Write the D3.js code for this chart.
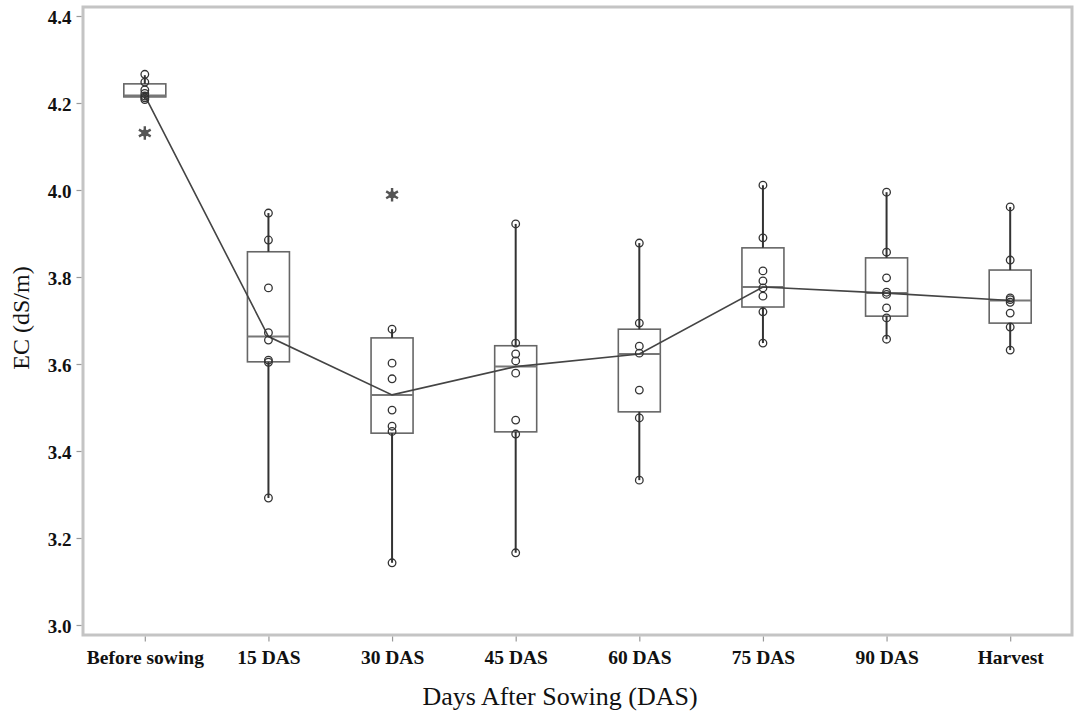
<!DOCTYPE html>
<html>
<head>
<meta charset="utf-8">
<script src="https://cdn.jsdelivr.net/npm/d3@7"></script>
<style>
  body { margin: 0; background: #fff; }
  svg { display: block; }
</style>
</head>
<body>
<svg id="chart" width="1084" height="728"></svg>
<script>
//Categories on the x axis
var categories = ["Before sowing", "15 DAS", "30 DAS", "45 DAS", "60 DAS", "75 DAS", "90 DAS", "Harvest"];
//Box statistics
var q1 = [4.214, 3.605, 3.441, 3.444, 3.490, 3.731, 3.710, 3.694];
var medians = [4.217, 3.663, 3.529, 3.594, 3.623, 3.777, 3.763, 3.746];
var q3 = [4.244, 3.858, 3.660, 3.642, 3.680, 3.867, 3.844, 3.816];
var whiskerLow = [4.208, 3.292, 3.143, 3.166, 3.333, 3.648, 3.657, 3.632];
var whiskerHigh = [4.264, 3.947, 3.680, 3.922, 3.878, 4.011, 3.995, 3.961];
//Individual observations (open circles)
var observations = [
  [4.266, 4.248, 4.230, 4.222, 4.216, 4.212, 4.208],
  [3.947, 3.885, 3.775, 3.672, 3.655, 3.609, 3.604, 3.292],
  [3.680, 3.602, 3.566, 3.494, 3.457, 3.445, 3.143],
  [3.922, 3.648, 3.623, 3.607, 3.579, 3.471, 3.439, 3.166],
  [3.878, 3.694, 3.641, 3.625, 3.540, 3.476, 3.333],
  [4.011, 3.890, 3.814, 3.791, 3.775, 3.756, 3.720, 3.648],
  [3.995, 3.857, 3.798, 3.765, 3.760, 3.729, 3.706, 3.657],
  [3.961, 3.839, 3.752, 3.748, 3.742, 3.717, 3.685, 3.632]
];
//Extreme values (stars)
var extremeCats = ["Before sowing", "30 DAS"];
var extremeVals = [4.131, 3.989];
//Y tick labels
var yTicks = [3.0, 3.2, 3.4, 3.6, 3.8, 4.0, 4.2, 4.4];

var frame = {left: 83, right: 1072, top: 7, bottom: 635};

var svg = d3.select("#chart");

var x = d3.scalePoint()
  .domain(categories)
  .range([frame.left, frame.right])
  .padding(0.5);

var y = d3.scaleLinear()
  .domain([3.0, 4.4])
  .range([625, 16]);

var boxW = 42;

//Frame
svg.append("rect")
  .attr("x", frame.left)
  .attr("y", frame.top)
  .attr("width", frame.right - frame.left)
  .attr("height", frame.bottom - frame.top)
  .style("fill", "none")
  .style("stroke", "#c4c4c4")
  .style("stroke-width", 3);

//Y axis
var yAxis = d3.axisLeft(y)
  .tickValues(yTicks)
  .tickFormat(d3.format(".1f"))
  .tickSize(5)
  .tickSizeOuter(0);
var gy = svg.append("g")
  .attr("transform", "translate(" + (frame.left - 1.5) + ",0)")
  .call(yAxis);
gy.select(".domain").remove();
gy.selectAll(".tick line").style("stroke", "#999").style("stroke-width", 1.2);
gy.selectAll(".tick text")
  .attr("x", -10)
  .attr("dy", "0.4em")
  .style("font-family", "'Liberation Serif', 'Times New Roman', serif")
  .style("font-weight", "bold")
  .style("font-size", "19px")
  .style("fill", "#111");

//X axis
var xAxis = d3.axisBottom(x)
  .tickSize(5)
  .tickSizeOuter(0);
var gx = svg.append("g")
  .attr("transform", "translate(0," + (frame.bottom + 1.5) + ")")
  .call(xAxis);
gx.select(".domain").remove();
gx.selectAll(".tick line").style("stroke", "#999").style("stroke-width", 1.2);
gx.selectAll(".tick text")
  .attr("y", 14)
  .attr("dy", "0.71em")
  .style("font-family", "'Liberation Serif', 'Times New Roman', serif")
  .style("font-weight", "bold")
  .style("font-size", "19.5px")
  .style("fill", "#111");

//Axis titles
svg.append("text")
  .attr("x", 560)
  .attr("y", 705)
  .attr("text-anchor", "middle")
  .style("font-family", "'Liberation Serif', 'Times New Roman', serif")
  .style("font-size", "26px")
  .style("fill", "#111")
  .text("Days After Sowing (DAS)");

svg.append("text")
  .attr("transform", "translate(29,318) rotate(-90)")
  .attr("text-anchor", "middle")
  .style("font-family", "'Liberation Serif', 'Times New Roman', serif")
  .style("font-size", "24px")
  .style("fill", "#111")
  .text("EC (dS/m)");

var plot = svg.append("g");

//Boxes
plot.selectAll("rect.box")
  .data(categories)
  .enter()
  .append("rect")
  .attr("class", "box")
  .attr("x", function(d) { return x(d) - boxW / 2; })
  .attr("y", function(d, i) { return y(q3[i]); })
  .attr("width", boxW)
  .attr("height", function(d, i) { return y(q1[i]) - y(q3[i]); })
  .style("fill", "none")
  .style("stroke", "#666")
  .style("stroke-width", 1.6);

//Whiskers
plot.selectAll("line.whiskerHi")
  .data(categories)
  .enter()
  .append("line")
  .attr("x1", function(d) { return x(d); })
  .attr("x2", function(d) { return x(d); })
  .attr("y1", function(d, i) { return y(q3[i]); })
  .attr("y2", function(d, i) { return y(whiskerHigh[i]); })
  .style("stroke", "#333")
  .style("stroke-width", 2);
plot.selectAll("line.whiskerLo")
  .data(categories)
  .enter()
  .append("line")
  .attr("x1", function(d) { return x(d); })
  .attr("x2", function(d) { return x(d); })
  .attr("y1", function(d, i) { return y(q1[i]); })
  .attr("y2", function(d, i) { return y(whiskerLow[i]); })
  .style("stroke", "#333")
  .style("stroke-width", 2);

//Median lines
plot.selectAll("line.median")
  .data(categories)
  .enter()
  .append("line")
  .attr("x1", function(d) { return x(d) - boxW / 2; })
  .attr("x2", function(d) { return x(d) + boxW / 2; })
  .attr("y1", function(d, i) { return y(medians[i]); })
  .attr("y2", function(d, i) { return y(medians[i]); })
  .style("stroke", "#777")
  .style("stroke-width", 2);

//Line joining the medians
var line = d3.line()
  .x(function(d) { return x(d); })
  .y(function(d, i) { return y(medians[i]); });
plot.append("path")
  .datum(categories)
  .attr("d", line)
  .style("fill", "none")
  .style("stroke", "#444")
  .style("stroke-width", 1.6);

//Observations
var pts = [];
observations.forEach(function(vals, i) {
  vals.forEach(function(v) { pts.push({cat: categories[i], v: v}); });
});
plot.selectAll("circle.obs")
  .data(pts)
  .enter()
  .append("circle")
  .attr("cx", function(d) { return x(d.cat); })
  .attr("cy", function(d) { return y(d.v); })
  .attr("r", 3.8)
  .style("fill", "none")
  .style("stroke", "#333")
  .style("stroke-width", 1.3);

//Extremes
var star = d3.symbol().type(d3.symbolAsterisk).size(130);
plot.selectAll("path.extreme")
  .data(extremeVals)
  .enter()
  .append("path")
  .attr("d", star)
  .attr("transform", function(d, i) {
    return "translate(" + x(extremeCats[i]) + "," + y(d) + ")";
  })
  .style("fill", "none")
  .style("stroke", "#555")
  .style("stroke-width", 2.4);
plot.selectAll("circle.extreme")
  .data(extremeVals)
  .enter()
  .append("circle")
  .attr("cx", function(d, i) { return x(extremeCats[i]); })
  .attr("cy", function(d) { return y(d); })
  .attr("r", 3.5)
  .style("fill", "#555");
</script>
</body>
</html>
